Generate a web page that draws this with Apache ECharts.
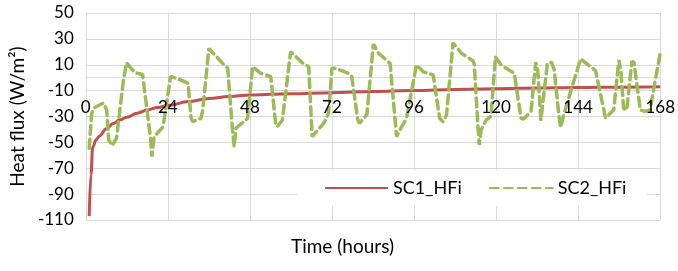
<!DOCTYPE html>
<html>
<head>
    <meta charset="utf-8">
    <title>Heat flux</title>
    <script src="https://cdn.jsdelivr.net/npm/echarts@6/dist/echarts.min.js"></script>
    <style>
        html, body { margin: 0; padding: 0; background: #fff; }
        #chart { width: 678px; height: 271px; }
    </style>
</head>
<body>
<div id="chart"></div>
<script>
    // x-axis ticks (hours)
    var hourTicks = [0, 24, 48, 72, 96, 120, 144, 168];

    // SC1_HFi
    var sc1Hours = [1, 1.5, 2, 3, 4, 6, 8, 10, 12, 15, 18, 21, 24, 30, 36, 42, 48, 54, 60, 72, 84, 96, 108, 120, 132, 144, 156, 168];
    var sc1Flux  = [-107, -75, -54, -48, -45, -39.5, -35.5, -32.5, -30.5, -27.5, -25, -23, -21.5, -18.5, -16, -14.5, -13.4, -12.8, -12.4, -11.6, -10.6, -9.9, -9.1, -8.5, -8, -7.6, -7.3, -7];

    // SC2_HFi
    var sc2Hours = [1, 1.7, 2.3, 5.2, 6.1, 6.7, 7.7, 9, 11, 11.9, 14.3, 16.6, 19, 19.3, 20, 22.6, 24.8, 27.5, 29.9, 30.8, 31.3, 33.7, 34.2, 36,
        40, 41.5, 42.9, 43.4, 43.9, 47.3, 48.8, 51.2, 54.1, 55.5, 56, 57.5, 59.9, 63.3, 65.2, 66.2, 69.6, 71, 72, 73, 76.9, 77.8,
        79.5, 80, 82.2, 84.1, 85.6, 89, 90.9, 91.5, 93.8, 96.7, 98.7, 101.6, 103.5, 104.5, 105.5, 107.4, 109.8, 113.2, 113.6,
        114.7, 115.1, 115.6, 117.1, 118.5, 119.8, 121.5, 125.3, 127.3, 128, 130.2, 131.6, 132.2, 133.1, 135, 136.2, 137,
        138.4, 138.9, 139.9, 144.7, 149.1, 152, 154.4, 155.9, 156.5, 157.3, 158.2, 159.7, 160.3, 162.2, 163.5, 165, 168];
    var sc2Flux  = [-54.6, -28, -23.5, -19.5, -25, -48, -52.5, -46.5, -2, 11.5, 4, 2.5, -48, -61, -45.6, -37.9, 1, -1.5, -4.3, -31.4, -34, -31.4, -25, 22.7,
        11.1, 7.3, -40.4, -53.3, -39.1, -31.4, 8.5, 3.4, 0.8, -35, -37.9, -32.7, 20.1, 11.6, 8.5, -45.6, -35.2, -27.5, 7.3, 7.3, 3.4, 0.8,
        -32, -35.2, -28.8, 26, 18.9, 11.1, -45.6, -42, -31.4, 9.8, 4.6, 2.1, -31.4, -34, -28.8, 27, 19, 13.1, 11,
        -37.9, -52, -40.4, -32.7, -30, 16.2, 9.8, 3.4, -31.4, -32, -26.3, 12, 5, -32.7, 11.1, 12, 6,
        -30, -38.5, -27.5, 14.5, 5.5, -31, -25, 13.7, 5, -24, -25, 12.5, 12, -25, -26, -25, 19];

    function pairs(xs, ys) {
        var out = [];
        for (var i = 0; i < xs.length; i++) out.push([xs[i], ys[i]]);
        return out;
    }

    var font = 'Lato, "Open Sans", sans-serif';
    var gridColor = '#d9d9d9';
    var gridTop = 13, gridBottom = 51, chartH = 271;
    var yMin = -110, yMax = 50;
    // move the horizontal axis up so that it crosses the value axis at 0
    var plotH = chartH - gridTop - gridBottom;
    var zeroOffset = -plotH * (0 - yMin) / (yMax - yMin);

    var hourLabel = {
        fontFamily: font, fontSize: 17, color: '#000', margin: 21,
        formatter: function (v) { return hourTicks.indexOf(v) >= 0 ? String(v) : ''; }
    };

    var option = {
        animation: false,
        textStyle: { fontFamily: font, color: '#000' },
        title: {
            text: 'Time (hours)',
            left: 291,
            top: 237,
            padding: 0,
            textStyle: { fontFamily: font, fontSize: 19, fontWeight: 'normal', color: '#000' }
        },
        grid: { left: 84, right: 16, top: gridTop, bottom: gridBottom },
        legend: {
            data: ['SC1_HFi', 'SC2_HFi'],
            left: 297,
            top: 170,
            padding: [9, 20, 9, 27],
            backgroundColor: '#fff',
            itemWidth: 63,
            itemHeight: 14,
            itemGap: 27,
            itemStyle: { opacity: 0 },
            textStyle: { fontFamily: font, fontSize: 18, color: '#000' }
        },
        xAxis: [
            {
                // grid + axis line, behind the lines
                type: 'value',
                min: 0,
                max: 168,
                interval: 24,
                position: 'bottom',
                offset: zeroOffset,
                axisLine: { onZero: false, lineStyle: { color: gridColor, width: 1 } },
                axisTick: { show: false },
                axisLabel: { show: false },
                splitLine: { show: true, lineStyle: { color: gridColor, width: 1 } }
            },
            {
                // tick labels only, drawn over the lines like the original
                type: 'value',
                min: 0,
                max: 168,
                interval: 24,
                position: 'bottom',
                offset: zeroOffset,
                z: 10,
                axisLine: { show: false, onZero: false },
                axisTick: { show: false },
                axisLabel: hourLabel,
                splitLine: { show: false }
            }
        ],
        yAxis: {
            type: 'value',
            min: yMin,
            max: yMax,
            interval: 20,
            name: 'Heat flux (W/m²)',
            nameLocation: 'middle',
            nameGap: 56,
            nameTextStyle: { fontFamily: font, fontSize: 19, color: '#000' },
            axisLine: { show: true, onZero: false, lineStyle: { color: gridColor, width: 1 } },
            axisTick: { show: false },
            axisLabel: { fontFamily: font, fontSize: 17, color: '#000', margin: 12 },
            splitLine: { show: true, lineStyle: { color: gridColor, width: 1 } }
        },
        series: [
            {
                name: 'SC1_HFi',
                type: 'line',
                xAxisIndex: 0,
                data: pairs(sc1Hours, sc1Flux),
                showSymbol: false,
                symbol: 'none',
                smooth: 0.4,
                smoothMonotone: 'x',
                lineStyle: { color: '#c0504d', width: 3 },
                itemStyle: { color: '#c0504d' }
            },
            {
                name: 'SC2_HFi',
                type: 'line',
                xAxisIndex: 0,
                data: pairs(sc2Hours, sc2Flux),
                showSymbol: false,
                symbol: 'none',
                lineStyle: { color: '#9bbb59', width: 3.5, type: [9, 5], cap: 'round' },
                itemStyle: { color: '#9bbb59' }
            }
        ]
    };

    var myChart = echarts.init(document.getElementById('chart'));
    myChart.setOption(option);
</script>
</body>
</html>
